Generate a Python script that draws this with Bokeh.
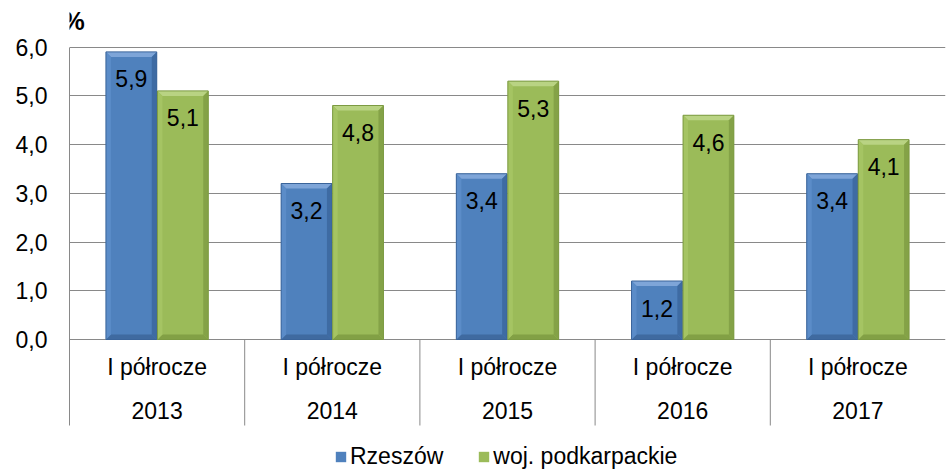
import numpy as np
from bokeh.plotting import figure
from bokeh.models import Range1d, FixedTicker, Legend, LegendItem
from bokeh.core.properties import value
from bokeh.embed import file_html
from bokeh.resources import INLINE

# ---- data ----
periods = ["I półrocze", "I półrocze", "I półrocze", "I półrocze", "I półrocze"]
years = ["2013", "2014", "2015", "2016", "2017"]
rzeszow = [5.9, 3.2, 3.4, 1.2, 3.4]
podkarpackie = [5.1, 4.8, 5.3, 4.6, 4.1]
y_ticks = [0, 1, 2, 3, 4, 5, 6]
y_tick_labels = ["0,0", "1,0", "2,0", "3,0", "4,0", "5,0", "6,0"]
series_names = ["Rzeszów", "woj. podkarpackie"]
unit_label = "%"

# ---- style ----
FONT = "Liberation Sans"
FS = "23px"
GRID = "#898989"
BLUE = dict(main="#4F81BD", top="#7EA5D8", left="#5B8CC8", right="#3E6BA3", bottom="#3F6AA0", edge="#3A649A")
GREEN = dict(main="#9BBB59", top="#B9D383", left="#A5C463", right="#84A247", bottom="#82A045", edge="#7C9A42")

PX_PER_UNIT = 48.75
Y_MAX = 6.954
Y_MIN = -2.687
CAT_BOTTOM = -1.764
ROW1_Y = -0.554
ROW2_Y = -1.446
PCT_Y = 6.524
BAR_W = 0.29
OFF = 0.147

n = len(years)
xs = np.arange(n, dtype=float)

p = figure(width=946, height=470, output_backend="svg", toolbar_location=None,
           x_range=Range1d(-0.5, 4.5), y_range=Range1d(Y_MIN, Y_MAX),
           x_axis_location=None,
           min_border_left=69, min_border_right=1, min_border_top=0, min_border_bottom=0)
p.outline_line_color = None
p.background_fill_color = "white"
p.border_fill_color = "white"

# y axis
p.yaxis.ticker = FixedTicker(ticks=y_ticks)
p.yaxis.major_label_overrides = {t: l for t, l in zip(y_ticks, y_tick_labels)}
p.yaxis.bounds = (CAT_BOTTOM, 6.0)
p.yaxis.axis_line_color = GRID
p.yaxis.axis_line_width = 1
p.yaxis.major_tick_line_color = None
p.yaxis.minor_tick_line_color = None
p.yaxis.major_tick_out = 0
p.yaxis.major_tick_in = 0
p.yaxis.major_label_standoff = 22
p.yaxis.major_label_text_font = FONT
p.yaxis.major_label_text_font_size = FS
p.yaxis.major_label_text_color = "black"

p.ygrid.ticker = FixedTicker(ticks=y_ticks)
p.ygrid.grid_line_color = GRID
p.ygrid.grid_line_width = 1
p.xgrid.grid_line_color = None

# category separators
seps = np.arange(1, n) - 0.5
p.segment(x0=seps, y0=0, x1=seps, y1=CAT_BOTTOM, line_color=GRID, line_width=1)

# category labels
p.text(x=xs, y=ROW1_Y, text=periods, text_align="center", text_baseline="middle",
       text_font=value(FONT), text_font_size=FS, text_color="black")
p.text(x=xs, y=ROW2_Y, text=years, text_align="center", text_baseline="middle",
       text_font=value(FONT), text_font_size=FS, text_color="black")

# unit label
p.text(x=[-0.5], y=[PCT_Y], text=[unit_label], x_offset=-7, text_align="left", text_baseline="middle",
       text_font=value(FONT), text_font_size="25px", text_font_style="bold", text_color="black")

BX = 5.0 / 175.2
BY = 5.0 / PX_PER_UNIT


def draw_series(centers, vals, col):
    r = p.vbar(x=centers, top=vals, bottom=0, width=BAR_W, fill_color=col["main"], line_color=None)
    tops_x, tops_y, bot_x, bot_y, l_x, l_y, r_x, r_y = [], [], [], [], [], [], [], []
    for c, t in zip(centers, vals):
        l, rr = c - BAR_W / 2, c + BAR_W / 2
        tops_x.append([l, rr, rr - BX, l + BX]); tops_y.append([t, t, t - BY, t - BY])
        bot_x.append([l, rr, rr - BX, l + BX]); bot_y.append([0, 0, BY, BY])
        l_x.append([l, l + BX, l + BX, l]); l_y.append([t, t - BY, BY, 0])
        r_x.append([rr, rr - BX, rr - BX, rr]); r_y.append([t, t - BY, BY, 0])
    p.patches(tops_x, tops_y, fill_color=col["top"], line_color=None)
    p.patches(bot_x, bot_y, fill_color=col["bottom"], line_color=None)
    p.patches(l_x, l_y, fill_color=col["left"], line_color=None)
    p.patches(r_x, r_y, fill_color=col["right"], line_color=None)
    p.vbar(x=centers, top=vals, bottom=0, width=BAR_W, fill_color=None, line_color=col["edge"], line_width=1)
    labels = [f"{v:.1f}".replace(".", ",") for v in vals]
    p.text(x=centers, y=vals, text=labels, y_offset=27, text_align="center", text_baseline="middle",
           text_font=value(FONT), text_font_size=FS, text_color="black")
    return r


r1 = draw_series(xs - OFF, rzeszow, BLUE)
r2 = draw_series(xs + OFF, podkarpackie, GREEN)

legend = Legend(items=[LegendItem(label=series_names[0], renderers=[r1]),
                       LegendItem(label=series_names[1], renderers=[r2])],
                orientation="horizontal", location=(265, 0),
                label_text_font=FONT, label_text_font_size=FS, label_text_color="black",
                glyph_width=13, glyph_height=13, label_standoff=3, spacing=34,
                label_height=24, padding=0, margin=0,
                border_line_color=None, background_fill_alpha=0)
p.add_layout(legend, "center")

open("out.html", "w").write(file_html(p, INLINE))
